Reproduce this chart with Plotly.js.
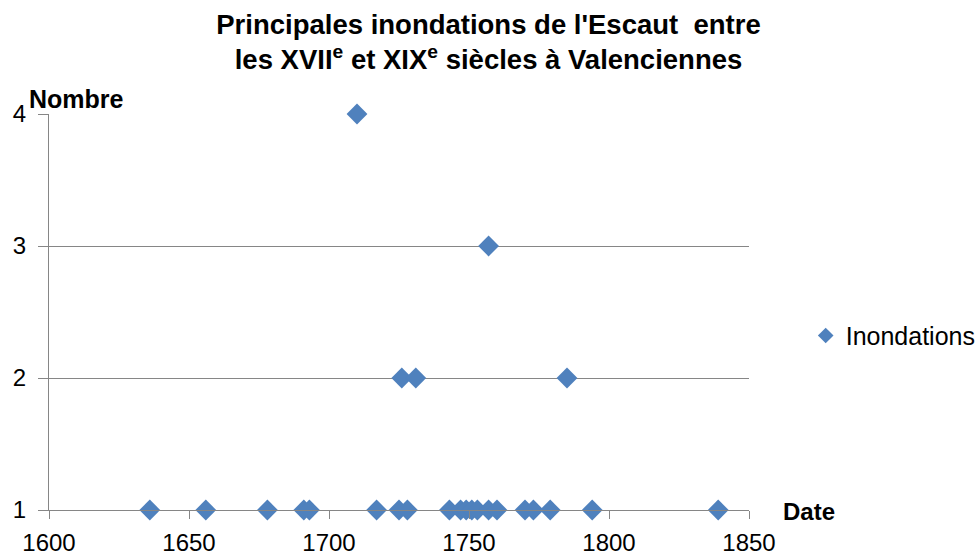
<!DOCTYPE html>
<html>
<head>
<meta charset="utf-8">
<script src="https://cdn.plot.ly/plotly-3.0.1.min.js"></script>
<style>html,body{margin:0;padding:0;background:#fff;}#chart{width:977px;height:560px;}</style>
</head>
<body>
<div id="chart"></div>
<script>
// Years of floods and number of floods recorded
var years = [1636, 1656, 1678, 1691, 1693, 1717, 1725, 1728, 1743, 1747, 1749, 1751, 1753, 1757, 1760, 1770, 1773, 1779, 1794, 1839,
             1726, 1731, 1785,
             1757,
             1710];
var counts = [1, 1, 1, 1, 1, 1, 1, 1, 1, 1, 1, 1, 1, 1, 1, 1, 1, 1, 1, 1,
              2, 2, 2,
              3,
              4];
var seriesName = 'Inondations';
var xTicks = [1600, 1650, 1700, 1750, 1800, 1850];
var yTicks = [1, 2, 3, 4];

var FONT = '"Liberation Sans", Arial, sans-serif';
var BLUE = '#4F81BD';
var GRID = '#868686';

var trace = {
  type: 'scatter',
  mode: 'markers',
  x: years,
  y: counts,
  name: seriesName,
  cliponaxis: false,
  hoverinfo: 'none',
  marker: {symbol: 'diamond', size: 16, color: BLUE, line: {width: 0}}
};

var layout = {
  width: 977,
  height: 560,
  margin: {l: 49, r: 228, t: 114, b: 50, pad: 0, autoexpand: false},
  paper_bgcolor: '#ffffff',
  plot_bgcolor: '#ffffff',
  font: {family: FONT, size: 24, color: '#000000'},
  title: {
    text: "<b>Principales inondations de l'Escaut\u00A0 entre<br>les XVII<sup>e</sup> et XIX<sup>e</sup> siècles à Valenciennes</b>",
    font: {family: FONT, size: 27.5, color: '#000000'},
    x: 0.5, xref: 'container', xanchor: 'center',
    y: 0.94, yref: 'container', yanchor: 'top'
  },
  showlegend: true,
  legend: {
    x: 1.081, xanchor: 'left', y: 0.44, yanchor: 'middle',
    font: {family: FONT, size: 25, color: '#000000'},
    itemsizing: 'constant',
    bgcolor: 'rgba(0,0,0,0)', borderwidth: 0
  },
  xaxis: {
    range: [1600, 1850],
    tickmode: 'array', tickvals: xTicks, ticktext: xTicks.map(String),
    showgrid: false, zeroline: false,
    showline: true, linecolor: GRID, linewidth: 1,
    ticks: 'outside', ticklen: 8, tickcolor: GRID, tickwidth: 1,
    ticklabelstandoff: 3,
    tickfont: {family: FONT, size: 24, color: '#000000'},
    fixedrange: true
  },
  yaxis: {
    range: [1, 4],
    tickmode: 'array', tickvals: yTicks, ticktext: yTicks.map(String),
    showgrid: true, gridcolor: GRID, gridwidth: 1,
    zeroline: false,
    showline: true, linecolor: GRID, linewidth: 1,
    ticks: 'outside', ticklen: 10, tickcolor: GRID, tickwidth: 1,
    ticklabelstandoff: 7,
    tickfont: {family: FONT, size: 24, color: '#000000'},
    fixedrange: true
  },
  annotations: [
    {text: '<b>Nombre</b>', xref: 'paper', yref: 'paper', x: -0.0314, y: 1.038,
     xanchor: 'left', yanchor: 'middle', showarrow: false,
     font: {family: FONT, size: 25, color: '#000000'}},
    {text: '<b>Date</b>', xref: 'paper', yref: 'paper', x: 1.045, y: -0.003,
     xanchor: 'left', yanchor: 'middle', showarrow: false,
     font: {family: FONT, size: 24, color: '#000000'}}
  ]
};

Plotly.newPlot('chart', [trace], layout, {displayModeBar: false, staticPlot: true});
</script>
</body>
</html>
